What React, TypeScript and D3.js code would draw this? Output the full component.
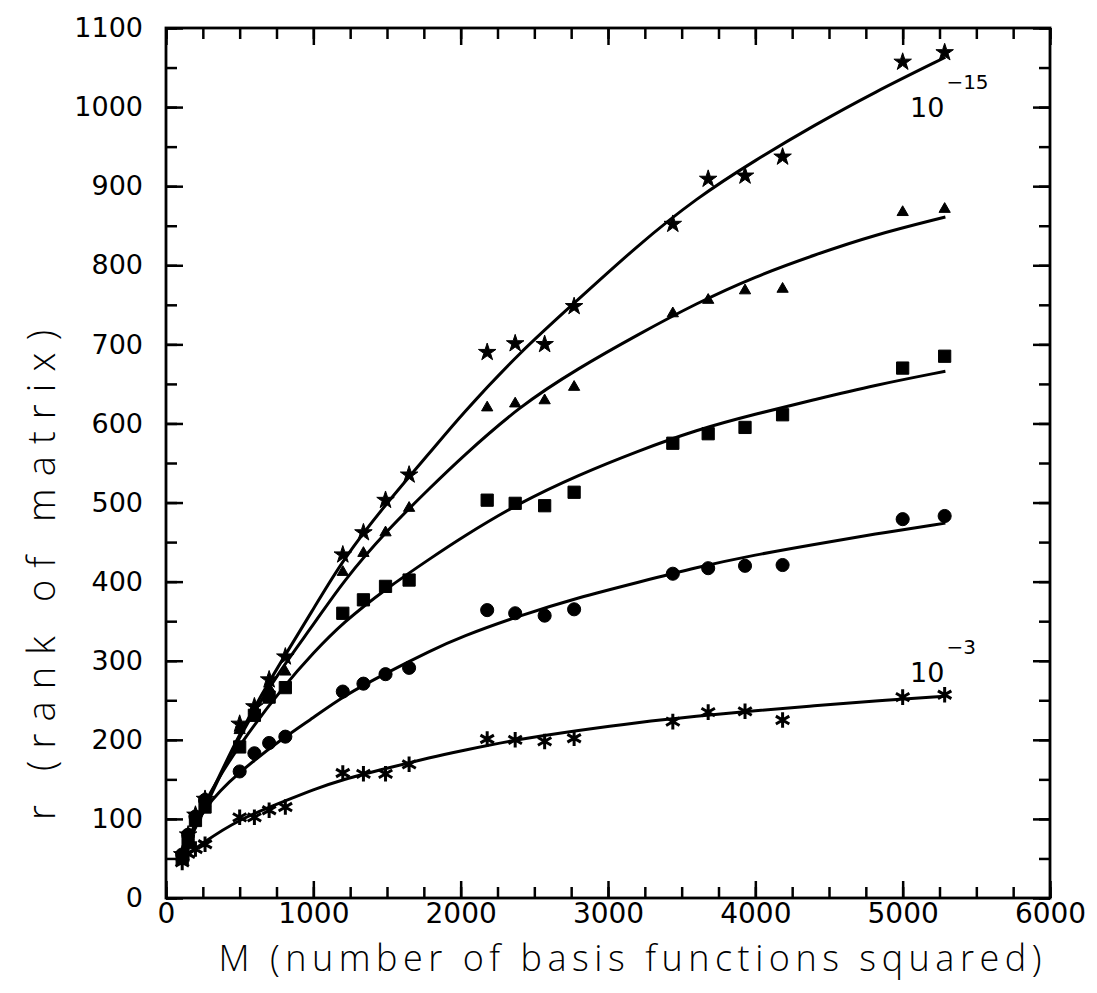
import { useEffect, useRef } from 'react';
import * as d3 from 'd3';

// M values (number of basis functions squared) shared by every tolerance run
const mValues = [110, 150, 200, 265, 500, 600, 700, 810, 1200, 1340, 1490, 1650, 2180, 2370, 2570, 2770, 3440, 3680, 3930, 4185, 5000, 5285];

// rank of matrix, one array per tolerance (top = 1e-15, bottom = 1e-3)
const rankStars = [55, 80, 105, 125, 220, 242, 276, 305, 434, 462, 503, 535, 690, 701, 700, 748, 852, 909, 913, 937, 1057, 1069];
const rankTriangles = [52, 78, 102, 120, 212, 240, 265, 286, 412, 436, 462, 493, 620, 625, 629, 646, 739, 756, 768, 770, 867, 871];
const rankSquares = [50, 70, 98, 115, 191, 231, 254, 266, 360, 377, 394, 402, 503, 499, 496, 513, 575, 587, 595, 611, 670, 685];
const rankCircles = [55, 80, 103, 124, 160, 183, 196, 204, 261, 271, 283, 291, 364, 360, 357, 365, 410, 417, 420, 421, 479, 483];
const rankAsterisks = [45, 56, 62, 68, 102, 102, 111, 115, 158, 157, 157, 169, 201, 200, 198, 202, 223, 235, 236, 225, 254, 257];

// fitted curves
const fitM = [100, 250, 500, 800, 1000, 1200, 1500, 1800, 2000, 2400, 2800, 3200, 3600, 4000, 4400, 4800, 5290];
const fitStars = [50, 110, 210, 305, 365, 428, 500, 565, 610, 690, 757, 825, 885, 933, 977, 1018, 1063];
const fitTriangles = [50, 108, 208, 295, 345, 400, 465, 520, 556, 622, 670, 712, 752, 786, 813, 838, 861];
const fitSquares = [50, 120, 195, 268, 310, 348, 392, 430, 455, 500, 535, 565, 592, 612, 630, 648, 666];
const fitCircles = [52, 115, 160, 203, 228, 255, 285, 313, 330, 357, 380, 399, 418, 434, 447, 460, 474];
const fitAsterisks = [48, 70, 100, 122, 137, 150, 164, 178, 186, 201, 212, 222, 230, 237, 243, 249, 255];

const xMajorTicks = [0, 1000, 2000, 3000, 4000, 5000, 6000];
const yMajorTicks = [0, 100, 200, 300, 400, 500, 600, 700, 800, 900, 1000, 1100];

const labels = [
  { base: '10', exp: '−15', m: 5050, r: 987 },
  { base: '10', exp: '−3', m: 5050, r: 273 },
];

export default function App() {
  const rootRef = useRef<SVGSVGElement | null>(null);

  useEffect(() => {
    const svgEl = rootRef.current;
    if (!svgEl) return undefined;
    document.body.style.margin = '0';

    const width = 1097;
    const height = 993;
    const margin = { top: 28, right: 47, bottom: 95, left: 166 };
    const chartWidth = width - margin.left - margin.right;
    const chartHeight = height - margin.top - margin.bottom;

    const svg = d3.select(svgEl);
    svg.selectAll('*').remove();
    svg.append('rect').attr('width', width).attr('height', height).attr('fill', '#fff');

    const g = svg.append('g').attr('transform', `translate(${margin.left},${margin.top})`);

    const x = d3.scaleLinear().domain([0, 6000]).range([0, chartWidth]);
    const y = d3.scaleLinear().domain([0, 1100]).range([chartHeight, 0]);

    const font = "'DejaVu Sans', sans-serif";
    const titleFont = "'Open Sans', 'DejaVu Sans', sans-serif";
    const xMinor = d3.range(0, 6001, 250);
    const yMinor = d3.range(0, 1101, 50);

    const styleAxis = (sel: any) => {
      sel.select('.domain').remove();
      sel.selectAll('.tick line').attr('stroke', '#000').attr('stroke-width', 2.5);
    };

    // minor ticks on all four sides, pointing inward
    g.append('g').attr('transform', `translate(0,${chartHeight})`)
      .call(d3.axisBottom(x).tickValues(xMinor).tickSize(-11).tickFormat(() => '')).call(styleAxis);
    g.append('g')
      .call(d3.axisTop(x).tickValues(xMinor).tickSize(-11).tickFormat(() => '')).call(styleAxis);
    g.append('g')
      .call(d3.axisLeft(y).tickValues(yMinor).tickSize(-11).tickFormat(() => '')).call(styleAxis);
    g.append('g').attr('transform', `translate(${chartWidth},0)`)
      .call(d3.axisRight(y).tickValues(yMinor).tickSize(-11).tickFormat(() => '')).call(styleAxis);

    // major ticks with labels
    const xAxis = g.append('g').attr('transform', `translate(0,${chartHeight})`)
      .call(d3.axisBottom(x).tickValues(xMajorTicks).tickSize(-17).tickPadding(5).tickFormat(d3.format('d')))
      .call(styleAxis);
    xAxis.selectAll('text').attr('font-family', font).attr('font-size', 28).attr('fill', '#000');

    const yAxis = g.append('g')
      .call(d3.axisLeft(y).tickValues(yMajorTicks).tickSize(-17).tickPadding(23).tickFormat(d3.format('d')))
      .call(styleAxis);
    yAxis.selectAll('text').attr('font-family', font).attr('font-size', 27).attr('fill', '#000');

    g.append('g').call(d3.axisTop(x).tickValues(xMajorTicks).tickSize(-17).tickFormat(() => '')).call(styleAxis);
    g.append('g').attr('transform', `translate(${chartWidth},0)`)
      .call(d3.axisRight(y).tickValues(yMajorTicks).tickSize(-17).tickFormat(() => '')).call(styleAxis);

    g.append('rect')
      .attr('width', chartWidth)
      .attr('height', chartHeight)
      .attr('fill', 'none')
      .attr('stroke', '#000')
      .attr('stroke-width', 2.8);

    // fitted curves
    const line = d3.line<[number, number]>()
      .x(d => x(d[0]))
      .y(d => y(d[1]))
      .curve(d3.curveBasis);

    [fitStars, fitTriangles, fitSquares, fitCircles, fitAsterisks].forEach(fit => {
      g.append('path')
        .datum(fitM.map((m, i) => [m, fit[i]] as [number, number]))
        .attr('fill', 'none')
        .attr('stroke', '#000')
        .attr('stroke-width', 3)
        .attr('stroke-linejoin', 'round')
        .attr('d', line);
    });

    // markers
    const series = [
      { values: rankStars, symbol: d3.symbolStar, size: 95, stroke: false },
      { values: rankTriangles, symbol: d3.symbolTriangle, size: 55, stroke: false },
      { values: rankSquares, symbol: d3.symbolSquare, size: 150, stroke: false },
      { values: rankCircles, symbol: d3.symbolCircle, size: 135, stroke: false },
      { values: rankAsterisks, symbol: d3.symbolAsterisk, size: 170, stroke: true },
    ];

    series.forEach(s => {
      const path = d3.symbol().type(s.symbol).size(s.size)();
      g.append('g')
        .selectAll('path')
        .data(mValues.map((m, i) => [m, s.values[i]]))
        .join('path')
        .attr('transform', d => `translate(${x(d[0])},${y(d[1])})`)
        .attr('d', path)
        .attr('fill', s.stroke ? 'none' : '#000')
        .attr('stroke', '#000')
        .attr('stroke-width', s.stroke ? 3 : 1)
        .attr('stroke-linejoin', 'round');
    });

    // tolerance labels
    labels.forEach(l => {
      const t = g.append('text')
        .attr('x', x(l.m))
        .attr('y', y(l.r))
        .attr('font-family', font)
        .attr('font-size', 27)
        .attr('fill', '#000');
      t.append('tspan').text(l.base);
      t.append('tspan').attr('dy', -28).attr('dx', 2).attr('font-size', 20).text(l.exp);
    });

    // axis titles
    svg.append('text')
      .attr('x', margin.left + chartWidth / 2 + 22)
      .attr('y', 971)
      .attr('text-anchor', 'middle')
      .attr('font-family', titleFont)
      .attr('font-weight', 300)
      .attr('font-size', 36)
      .attr('textLength', 823)
      .attr('lengthAdjust', 'spacing')
      .attr('fill', '#000')
      .text('M (number of basis functions squared)');

    svg.append('text')
      .attr('transform', `translate(55,575) rotate(-90)`)
      .attr('text-anchor', 'middle')
      .attr('font-family', titleFont)
      .attr('font-weight', 300)
      .attr('font-size', 38)
      .attr('textLength', 490)
      .attr('lengthAdjust', 'spacing')
      .attr('fill', '#000')
      .text('r (rank of matrix)');

    return () => {
      svg.selectAll('*').remove();
    };
  }, []);

  return <svg ref={rootRef} width={1097} height={993} style={{ display: 'block' }} />;
}
